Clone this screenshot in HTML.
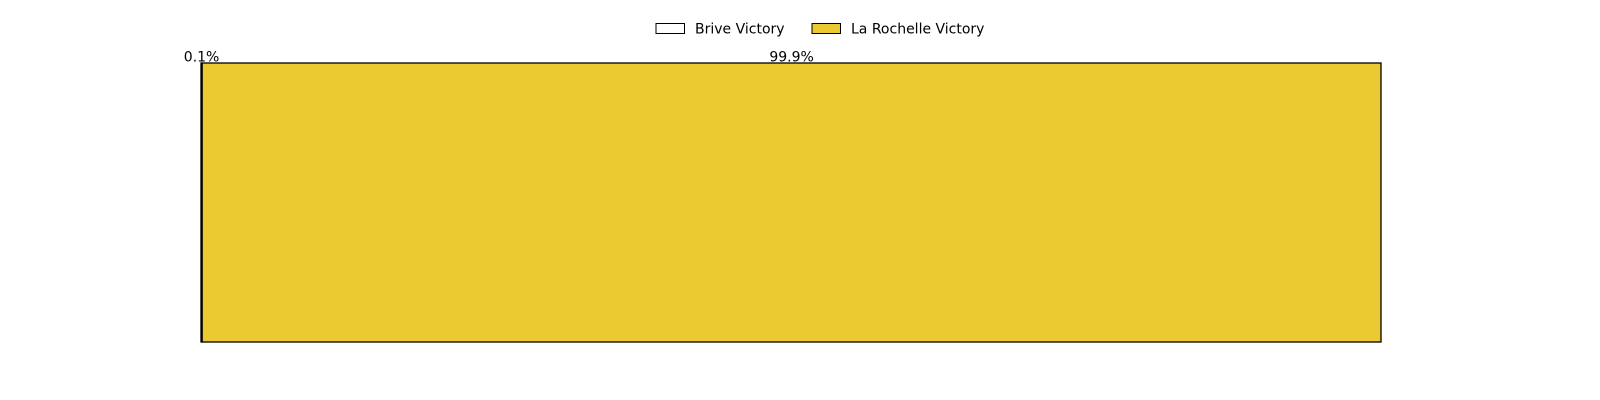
<!DOCTYPE html>
<html><head><meta charset="utf-8"><style>
html,body{margin:0;padding:0;background:#fff;}
svg{display:block;font-family:"DejaVu Sans","Liberation Sans",sans-serif;}
</style></head><body>
<svg id="chart" width="1600" height="400"></svg>
<script>
const categories = ["Brive Victory", "La Rochelle Victory"];
const values = [0.1, 99.9];
const colors = ["#ffffff", "#EAC931"];
const valueLabels = ["0.1%", "99.9%"];

const svg = document.getElementById('chart');
const NS = 'http://www.w3.org/2000/svg';
const x0 = 201, x1 = 1381, yTop = 63, yBot = 342;
const total = values.reduce((a,b)=>a+b,0);
const xScale = v => x0 + (v/total)*(x1-x0);
function mk(tag, attrs){const e=document.createElementNS(NS,tag);for(const k in attrs)e.setAttribute(k,attrs[k]);svg.appendChild(e);return e;}

let cum = 0;
values.forEach((v,i)=>{
  const xa = xScale(cum), xb = xScale(cum+v);
  const r = mk('rect',{x:xa,y:yTop,width:Math.max(xb-xa,0.5),height:yBot-yTop,fill:colors[i],stroke:'#000','stroke-width':1.3});
  
  
  const t = mk('text',{x:(xa+xb)/2,y:yTop-1.5,'text-anchor':'middle','font-size':14,fill:'#000'});
  t.textContent = valueLabels[i];
  
  
  cum += v;
});

// legend
const legendX = [656, 812];
categories.forEach((c,i)=>{
  const g = document.createElementNS(NS,'g');
  
  
  svg.appendChild(g);
  const r = document.createElementNS(NS,'rect');
  r.setAttribute('x',legendX[i]); r.setAttribute('y',23.5); r.setAttribute('width',28.5); r.setAttribute('height',10);
  r.setAttribute('fill',colors[i]); r.setAttribute('stroke','#000'); r.setAttribute('stroke-width',1);
  g.appendChild(r);
  const t = document.createElementNS(NS,'text');
  t.setAttribute('x',legendX[i]+39); t.setAttribute('y',33.5); t.setAttribute('font-size',14);
  t.textContent = c;
  g.appendChild(t);
});
</script>
</body></html>
